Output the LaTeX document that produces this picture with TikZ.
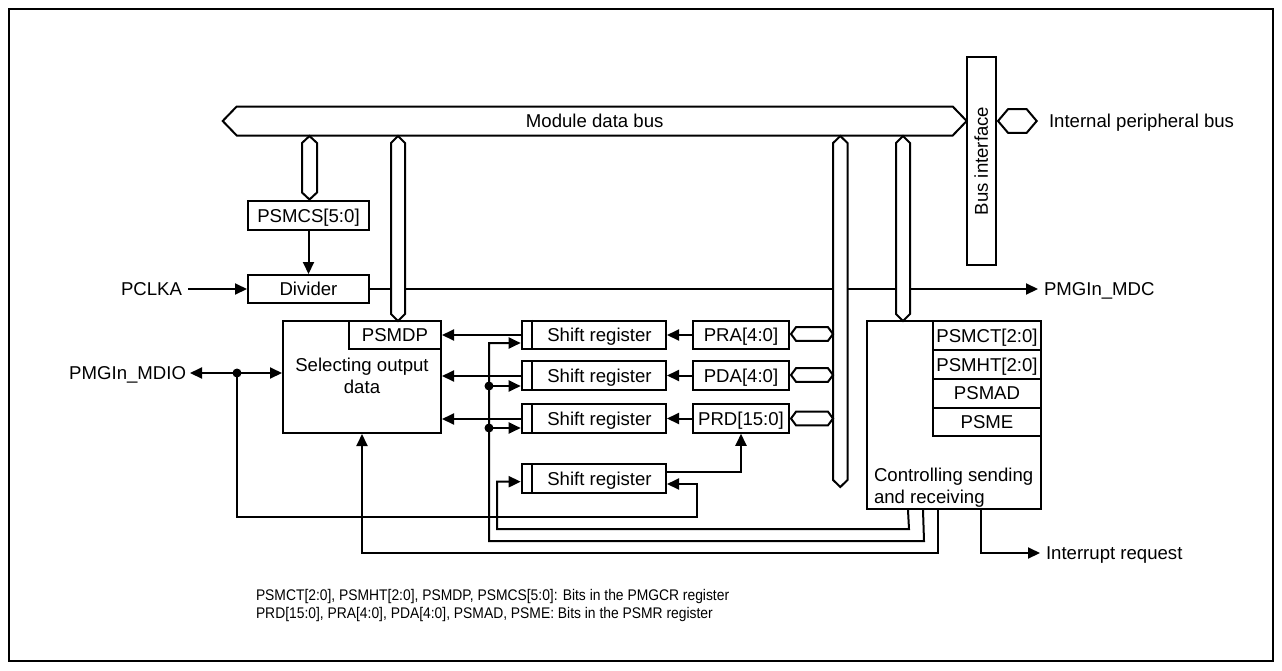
\documentclass[tikz,border=0pt]{standalone}
\usepackage{fontspec}
\usepackage{graphicx}
\setmainfont{Liberation Sans}
\usetikzlibrary{arrows.meta,calc}
\newcommand{\busV}[5]{% cx, halfw, ytop, ybot, depth
  \draw[bus] (#1,#3) -- (#1+#2,#3+#5) -- (#1+#2,#4-#5) -- (#1,#4) -- (#1-#2,#4-#5) -- (#1-#2,#3+#5) -- cycle;}
\newcommand{\busH}[5]{% cy, halfh, xleft, xright, depth
  \draw[bus] (#3,#1) -- (#3+#5,#1-#2) -- (#4-#5,#1-#2) -- (#4,#1) -- (#4-#5,#1+#2) -- (#3+#5,#1+#2) -- cycle;}
\begin{document}
\begin{tikzpicture}[x=1pt,y=-1pt,line width=2pt,
  box/.style={draw, rectangle, inner sep=0pt, fill=white, line width=2pt,
    font=\fontsize{18.6}{22}\selectfont, text height=13.4pt, text depth=0pt},
  sr/.style={box, minimum width=144.3pt, minimum height=28.5pt},
  reg/.style={box, minimum width=96pt, minimum height=28.5pt},
  cbit/.style={box, minimum width=108pt},
  arr/.style={line width=2pt, -{Triangle[length=12pt,width=11pt]}},
  dot/.style={circle, fill=black, inner sep=0pt, minimum size=9pt},
  lbl/.style={inner sep=0pt, font=\fontsize{18.6}{22}\selectfont, text height=13.4pt, text depth=0pt},
  mlbl/.style={inner sep=0pt, font=\fontsize{18.6}{22}\selectfont},
  note/.style={inner sep=0pt, anchor=west, font=\fontsize{15.4}{18}\selectfont, text height=11pt, text depth=0pt},
  bus/.style={draw, fill=white, line width=2pt, line join=miter}
]
\useasboundingbox (0,0) rectangle (1282,670);
\draw[line width=2pt] (9,9) rectangle (1273,661);

% ---- nodes ----
\node[box, minimum width=121pt, minimum height=29pt] (psmcs) at (308.5,215.5) {PSMCS[5:0]};
\node[box, minimum width=121pt, minimum height=28pt] (div) at (308.5,289) {Divider};
\node[lbl, anchor=east] (pclka) at (183,289) {PCLKA};
\node[lbl, anchor=west] (mdc) at (1043,289) {PMGIn\_MDC};
\node[lbl, anchor=east] (mdio) at (187,373) {PMGIn\_MDIO};

\node[draw, rectangle, fill=white, minimum width=158pt, minimum height=112pt] (sel) at (362,377) {};
\node[mlbl, align=center] (seltext) at (362,376) {Selecting output\\data};
\node[box, minimum width=92pt, minimum height=28pt] (psmdp) at (395,335) {PSMDP};

\node[sr] (sr1) at (593.85,335) {\hspace*{11.3pt}Shift register};
\node[sr] (sr2) at (593.85,375.5) {\hspace*{11.3pt}Shift register};
\node[sr] (sr3) at (593.85,418.5) {\hspace*{11.3pt}Shift register};
\node[sr] (sr4) at (593.85,478.5) {\hspace*{11.3pt}Shift register};
\foreach \s in {sr1,sr2,sr3,sr4}{
  \draw ($(\s.north west)+(11.3,0)$) -- ($(\s.south west)+(11.3,0)$);
}
\node[reg] (pra) at (741,335) {PRA[4:0]};
\node[reg] (pda) at (741,375.5) {PDA[4:0]};
\node[reg] (prd) at (741,418.5) {PRD[15:0]};

\node[draw, rectangle, fill=white, minimum width=174.3pt, minimum height=188pt] (ctrl) at (953.85,415) {};
\node[cbit, minimum height=29pt] (psmct) at (987,335.5) {PSMCT[2:0]};
\node[cbit, minimum height=29pt] (psmht) at (987,364.5) {PSMHT[2:0]};
\node[cbit, minimum height=28.5pt] (psmad) at (987,393.25) {PSMAD};
\node[cbit, minimum height=28.5pt] (psme) at (987,421.75) {PSME};
\node[mlbl, align=left, anchor=west] (ctext) at (873,488) {Controlling sending\\and receiving};

\node[box, minimum width=29pt, minimum height=208pt] (bif) at (981.2,161) {};
\node[lbl, rotate=90] (biftext) at (981.2,161) {Bus interface};
\node[lbl, anchor=west] (ipb) at (1048,121) {Internal peripheral bus};
\node[lbl, anchor=west] (irq) at (1045,553) {Interrupt request};

% ---- wires ----
\draw[arr] ([xshift=5pt]pclka.east) -- (div.west);
\draw[arr] (psmcs.south) -- (div.north);
\draw[arr] (div.east) -- ([xshift=-5pt]mdc.west);

\node[dot] (d0) at (237,373) {};
\draw[arr] (d0.center) -- ([xshift=3pt]mdio.east);
\draw[arr] (d0.center) -- (sel.west |- d0);
\draw[arr] (d0.center) -- (237,517) -- (697,517) -- (697,484) -- ($(sr4.east)+(0,5.5)$);

\draw[arr] (sr1.west) -- (psmdp.east);
\draw[arr] ($(sr2.west)+(0,0.5)$) -- ($(sel.east)+(0,-1)$);
\draw[arr] ($(sr3.west)+(0,0.5)$) -- ($(sel.east)+(0,42)$);

\draw[arr] (pra.west) -- (sr1.east);
\draw[arr] (pda.west) -- (sr2.east);
\draw[arr] (prd.west) -- (sr3.east);
\draw[arr] ($(sr4.east)+(0,-6.5)$) -| (prd.south);

\node[dot] (d1) at (489,386) {};
\node[dot] (d2) at (489,428) {};
\draw[arr] ($(ctrl.south west)+(57.3,0)$) -- (924,541) -- (489,541) -- (489,343) -- ($(sr1.west)+(0,8)$);
\draw[arr] (d1.center) -- ($(sr2.west)+(0,10.5)$);
\draw[arr] (d2.center) -- ($(sr3.west)+(0,9.5)$);
\draw[arr] ($(ctrl.south west)+(42.3,0)$) -- (909,529) -- (497,529) -- (497,481.7) -- ($(sr4.west)+(0,3.2)$);
\coordinate (c3) at (362,553);
\draw[arr] ($(ctrl.south west)+(72.3,0)$) |- (c3) -- (sel.south);
\draw[arr] ($(ctrl.south west)+(115,0)$) |- ([xshift=-5pt]irq.west);

% ---- buses ----
\busH{121}{14.5}{222.7}{966.7}{14}
\node[lbl] (mdb) at (594.7,121) {Module data bus};
\busH{121}{11.8}{998}{1036.7}{10}
\busV{309.5}{7.5}{136}{199.5}{7}
\busV{398}{7}{136}{321}{7}
\busV{840.3}{7.2}{136}{487}{7}
\busV{903}{7}{136}{321}{7}
\busH{334}{6.8}{791}{833}{5}
\busH{375}{6.8}{791}{833}{5}
\busH{418.5}{6.8}{791}{833}{5}

% ---- notes ----
\node[note] (n1) at (255,595) {\scalebox{0.9}[1]{PSMCT[2:0], PSMHT[2:0], PSMDP, PSMCS[5:0]: Bits in the PMGCR register}};
\node[note] (n2) at (255,613) {\scalebox{0.9}[1]{PRD[15:0], PRA[4:0], PDA[4:0], PSMAD, PSME: Bits in the PSMR register}};
\end{tikzpicture}
\end{document}
